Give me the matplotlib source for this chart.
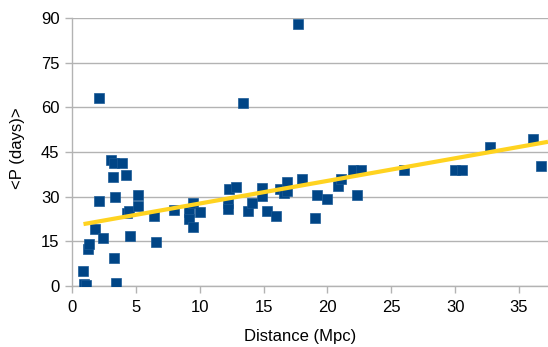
import numpy as np
import matplotlib
matplotlib.use("Agg")
import matplotlib.pyplot as plt

plt.rcParams['font.family'] = ['Liberation Sans', 'DejaVu Sans']

distance = [0.9, 0.95, 1.1, 1.27, 1.35, 1.8, 2.1, 2.1, 2.4, 3.05, 3.3, 3.2, 3.35,
            3.3, 3.45, 3.9, 4.2, 4.3, 4.5, 4.55, 5.15, 5.15, 6.4, 6.6, 8.0,
            9.2, 9.2, 9.5, 9.5, 10.0, 12.2, 12.2, 12.3, 12.85, 13.4, 13.8, 14.1,
            14.9, 14.9, 15.3, 16.0, 16.3, 16.6, 16.8, 16.8, 17.7, 18.0,
            19.0, 19.2, 20.0, 20.8, 21.1, 22.0, 22.6, 22.3, 26.0, 30.0, 30.5,
            32.7, 36.1, 36.7]
period = [5.0, 0.6, 0.2, 12.4, 14.1, 19.1, 28.5, 63.0, 16.1, 42.3, 41.3, 36.6, 30.0,
          9.4, 1.0, 41.3, 37.3, 24.5, 25.2, 16.8, 30.6, 27.0, 23.5, 14.8, 25.5,
          24.8, 22.5, 28.0, 19.8, 25.0, 27.8, 25.8, 32.5, 33.2, 61.4, 25.3, 27.8,
          33.0, 30.3, 25.2, 23.5, 32.6, 31.3, 35.0, 32.0, 88.0, 36.0,
          23.0, 30.6, 29.2, 33.6, 35.9, 39.0, 39.0, 30.6, 39.0, 39.0, 39.0,
          46.8, 49.5, 40.3]

trend_slope = 0.76
trend_intercept = 20.1

x_ticks = [0, 5, 10, 15, 20, 25, 30, 35]
y_ticks = [0, 15, 30, 45, 60, 75, 90]

fig = plt.figure(figsize=(5.48, 3.47), dpi=100)
ax = fig.add_axes([72/548, (347-286)/347, (548-72)/548, (286-18)/347])

ax.set_xlim(0, 37.27)
ax.set_ylim(0, 90)
ax.set_xticks(x_ticks)
ax.set_yticks(y_ticks)

ax.grid(axis='y', color='#b3b3b3', linewidth=1)
ax.grid(axis='x', visible=False)
ax.set_axisbelow(True)

for s in ['top', 'right']:
    ax.spines[s].set_visible(False)
for s in ['left', 'bottom']:
    ax.spines[s].set_color('#b3b3b3')
    ax.spines[s].set_linewidth(1)

ax.tick_params(axis='both', colors='#b3b3b3', labelcolor='black', labelsize=12,
               length=5, width=1, direction='out')
ax.tick_params(axis='x', pad=5)
ax.tick_params(axis='y', pad=4)

ax.plot(distance, period, linestyle='none', marker='s', markersize=6.8,
        color='#004586', markeredgecolor='#1a5a96', markeredgewidth=0.5, zorder=3)

xt = np.array([min(distance), 37.27])
ax.plot(xt, trend_slope * xt + trend_intercept, color='#ffd320', linewidth=3,
        zorder=4, solid_capstyle='butt')

fig.text(300/548, 1 - 336/347, 'Distance (Mpc)', fontsize=12, ha='center', va='center')
fig.text(18/548, 1 - 148/347, '<P (days)>', fontsize=12, ha='center', va='center',
         rotation=90)

fig.savefig('out.png', dpi=100)
